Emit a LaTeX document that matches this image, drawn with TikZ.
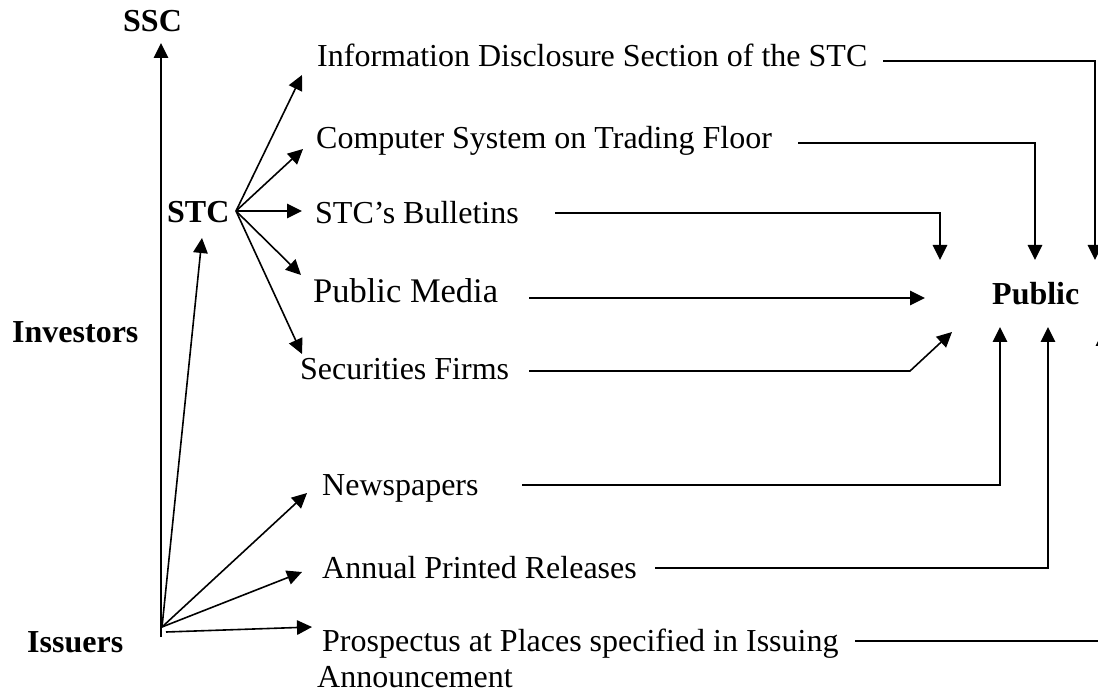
\documentclass[tikz,border=0pt]{standalone}
\usepackage{fontspec}
\setmainfont{Liberation Serif}
\usetikzlibrary{arrows.meta}
\begin{document}
\begin{tikzpicture}[x=1pt,y=-1pt,
  lbl/.style={anchor=base west, inner sep=0pt, font=\fontsize{32}{38}\selectfont},
  blbl/.style={anchor=base west, inner sep=0pt, font=\fontsize{32}{38}\selectfont\bfseries},
  conn/.style={line width=1.6pt},
  arr/.style={conn, -{Triangle[length=15pt,width=14.5pt]}},
]
\clip (0,0) rectangle (1098,692);
\fill[white] (0,0) rectangle (1098,692);
% nodes
\node[blbl] (ssc) at (123,32) {SSC};
\node[blbl] (stc) at (167,223) {STC};
\node[blbl] (inv) at (12,343) {Investors};
\node[blbl] (iss) at (27,652) {Issuers};
\node[blbl] (pub) at (992,305) {Public};
\node[lbl] (info) at (317,67) {Information Disclosure Section of the STC};
\node[lbl] (comp) at (316,149) {Computer System on Trading Floor};
\node[lbl] (bull) at (315,224) {STC’s Bulletins};
\node[lbl, font=\fontsize{34.5}{40}\selectfont] (media) at (313,303) {Public Media};
\node[lbl] (sec) at (300,380) {Securities Firms};
\node[lbl] (news) at (322,495) {Newspapers};
\node[lbl] (ann) at (322,578) {Annual Printed Releases};
\node[lbl] (pros) at (322,651) {Prospectus at Places specified in Issuing};
\node[lbl] (annc) at (317,687) {Announcement};
% coordinates
\coordinate (stcO) at (236,211);
\coordinate (issO) at (162,627);
\coordinate (issB) at (161,637);
\coordinate (issP) at (166,632);
\coordinate (sscT) at (161,43);
\coordinate (stcT) at (202,238);
\coordinate (aInfo) at (302,75);
\coordinate (aComp) at (303,149);
\coordinate (aBull) at (302,211);
\coordinate (aMedia) at (301,275);
\coordinate (aSec) at (302,354);
\coordinate (aNews) at (307,493);
\coordinate (aAnn) at (302,572);
\coordinate (aPros) at (312,627);
\coordinate (infoE) at (883,61);
\coordinate (compE) at (798,143);
\coordinate (bullE) at (555,213);
\coordinate (mediaE) at (529,298);
\coordinate (secE) at (529,371);
\coordinate (secK) at (910,371);
\coordinate (newsE) at (522,485);
\coordinate (annE) at (655,568);
\coordinate (prosE) at (855,641);
\coordinate (t1) at (1095,260);
\coordinate (t2) at (1035,260);
\coordinate (t3) at (940,260);
\coordinate (t4) at (925,298);
\coordinate (t5) at (952,332);
\coordinate (t6) at (1000,327);
\coordinate (t7) at (1048,327);
\coordinate (t8) at (1103,331);
% left connectors
\draw[arr] (issB) -- (sscT);
\draw[arr] (issO) -- (stcT);
\draw[arr] (issO) -- (aNews);
\draw[arr] (issO) -- (aAnn);
\draw[arr] (issP) -- (aPros);
\draw[arr] (stcO) -- (aInfo);
\draw[arr] (stcO) -- (aComp);
\draw[arr] (stcO) -- (aBull);
\draw[arr] (stcO) -- (aMedia);
\draw[arr] (stcO) -- (aSec);
% right connectors
\draw[arr] (infoE) -| (t1);
\draw[arr] (compE) -| (t2);
\draw[arr] (bullE) -| (t3);
\draw[arr] (mediaE) -- (t4);
\draw[arr] (secE) -- (secK) -- (t5);
\draw[arr] (newsE) -| (t6);
\draw[arr] (annE) -| (t7);
\draw[arr] (prosE) -| (t8);
\end{tikzpicture}
\end{document}
